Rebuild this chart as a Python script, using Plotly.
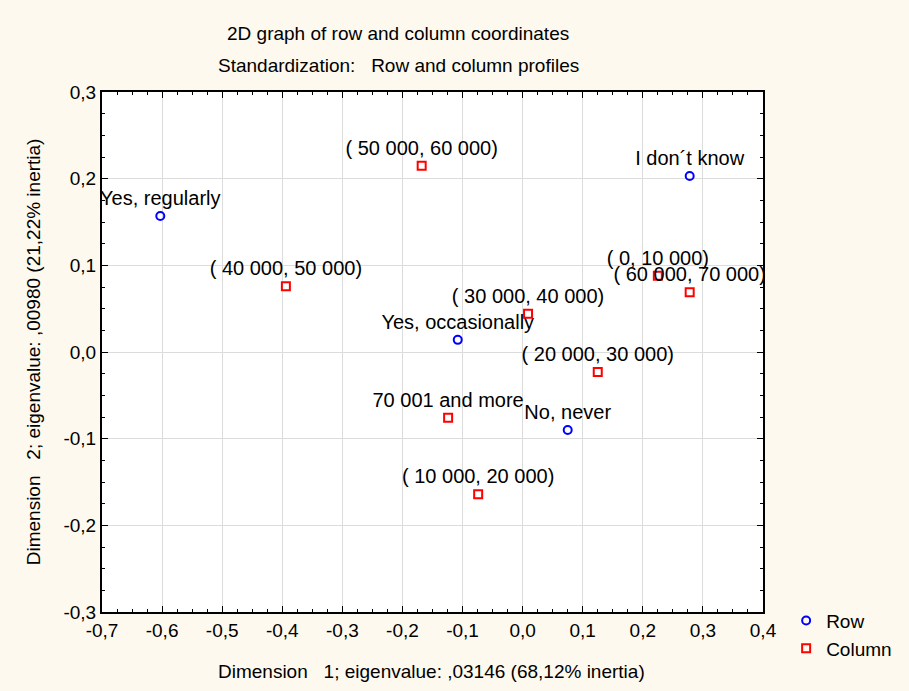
import plotly.graph_objects as go

# Row points
row_labels = ["Yes, regularly", "I don\u00b4t know", "Yes, occasionally", "No, never"]
row_x = [-0.603, 0.278, -0.108, 0.075]
row_y = [0.157, 0.203, 0.014, -0.090]

# Column points
col_labels = ["( 50 000, 60 000)", "( 40 000, 50 000)", "( 0, 10 000)", "( 60 000, 70 000)",
              "( 30 000, 40 000)", "( 20 000, 30 000)", "70 001 and more", "( 10 000, 20 000)"]
col_x = [-0.168, -0.394, 0.225, 0.278, 0.009, 0.125, -0.124, -0.074]
col_y = [0.215, 0.076, 0.088, 0.069, 0.044, -0.023, -0.076, -0.164]

x_ticks = [-0.7, -0.6, -0.5, -0.4, -0.3, -0.2, -0.1, 0.0, 0.1, 0.2, 0.3, 0.4]
x_tick_text = ["-0,7", "-0,6", "-0,5", "-0,4", "-0,3", "-0,2", "-0,1", "0,0", "0,1", "0,2", "0,3", "0,4"]
y_ticks = [-0.3, -0.2, -0.1, 0.0, 0.1, 0.2, 0.3]
y_tick_text = ["-0,3", "-0,2", "-0,1", "0,0", "0,1", "0,2", "0,3"]

FONT = "Liberation Sans, Arial, sans-serif"

fig = go.Figure()
fig.add_trace(go.Scatter(
    x=row_x, y=row_y, mode="markers+text", name="Row",
    text=row_labels, textposition="top center",
    textfont=dict(family=FONT, size=20, color="black"),
    marker=dict(symbol="circle-open", size=8, color="blue", line=dict(width=2, color="blue")),
    cliponaxis=False,
))
fig.add_trace(go.Scatter(
    x=col_x, y=col_y, mode="markers+text", name="Column",
    text=col_labels, textposition="top center",
    textfont=dict(family=FONT, size=20, color="black"),
    marker=dict(symbol="square-open", size=8, color="red", line=dict(width=2, color="red")),
    cliponaxis=False,
))

axis_common = dict(
    showline=True, linecolor="black", linewidth=2, mirror="ticks",
    ticks="inside", ticklen=6, tickwidth=1, tickcolor="black",
    showgrid=True, gridcolor="#DCDCDC", gridwidth=1,
    zeroline=False,
    tickfont=dict(family=FONT, size=19, color="black"),
    minor=dict(ticks="inside", ticklen=3, tickcolor="black", dtick=0.025, showgrid=False),
)

fig.update_xaxes(range=[-0.7, 0.4], tickvals=x_ticks, ticktext=x_tick_text, **axis_common)
fig.update_yaxes(range=[-0.3, 0.3], tickvals=y_ticks, ticktext=y_tick_text, **axis_common)

ann_font = dict(family=FONT, size=19, color="black")
fig.update_layout(
    width=909, height=691,
    margin=dict(l=102, r=146, t=92, b=79),
    paper_bgcolor="#FEF9EE", plot_bgcolor="white",
    showlegend=True,
    legend=dict(x=1.035, y=0.02, xanchor="left", yanchor="top",
                font=dict(family=FONT, size=19, color="black"),
                bgcolor="rgba(0,0,0,0)"),
    annotations=[
        dict(text="2D graph of row and column coordinates", x=0.448, y=1.113,
             xref="paper", yref="paper", showarrow=False, font=ann_font, yanchor="middle"),
        dict(text="Standardization:\u00a0\u00a0\u00a0Row and column profiles", x=0.448, y=1.05,
             xref="paper", yref="paper", showarrow=False, font=ann_font, yanchor="middle"),
        dict(text="Dimension\u00a0\u00a0\u00a01; eigenvalue: ,03146 (68,12% inertia)", x=0.498, y=-0.115,
             xref="paper", yref="paper", showarrow=False, font=ann_font, yanchor="middle"),
        dict(text="Dimension\u00a0\u00a0\u00a02; eigenvalue: ,00980 (21,22% inertia)", x=-0.104, y=0.5,
             xref="paper", yref="paper", showarrow=False, font=ann_font, textangle=-90,
             xanchor="center", yanchor="middle"),
    ],
)

fig.write_html("out.html", config={"displayModeBar": False},
               post_script="document.body.style.margin='0';document.body.style.background='#FEF9EE';")
